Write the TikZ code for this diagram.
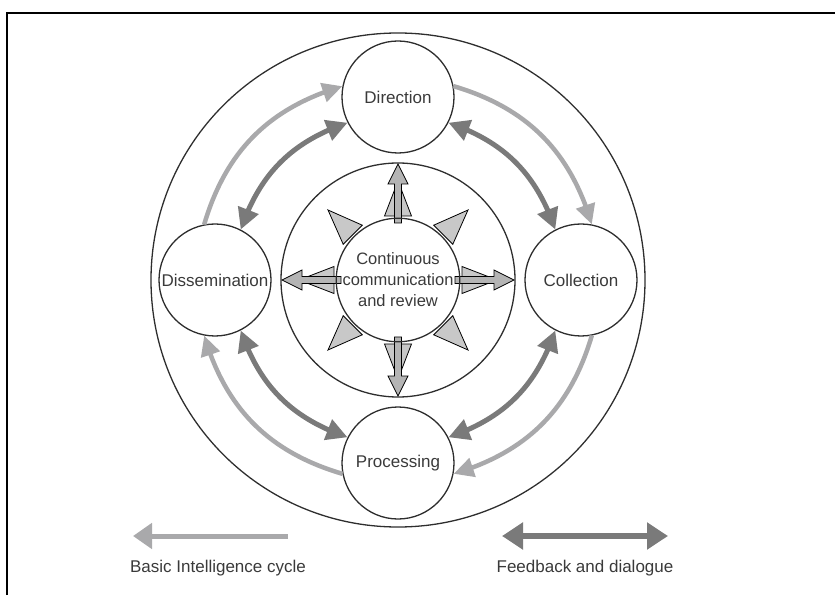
\documentclass[tikz,border=0pt]{standalone}
\usepackage{fontspec}
\setmainfont{Liberation Sans}
\usetikzlibrary{arrows.meta,bending,calc}
\definecolor{lightarr}{HTML}{A9A9AB}
\definecolor{darkarr}{HTML}{7A7A7A}
\definecolor{txt}{HTML}{3A3A3A}
\definecolor{ring}{HTML}{2E2E2E}
\definecolor{trifill}{HTML}{C8C8C8}
\definecolor{arrfill}{HTML}{B4B4B4}
\begin{document}
\begin{tikzpicture}[x=1pt,y=1pt,
  stage/.style={circle, draw=ring, line width=1.3pt, minimum size=112pt, inner sep=0pt,
    font=\fontsize{17}{20}\selectfont, text=txt},
  ringc/.style={circle, draw=ring, line width=1.3pt, inner sep=0pt},
  cyc/.style={draw=lightarr, line width=4.5pt, -{Triangle[length=20pt,width=19pt]}},
  fb/.style={draw=darkarr, line width=5pt,
    {Triangle[length=21pt,width=21pt]}-{Triangle[length=21pt,width=21pt]}},
  legcyc/.style={draw=lightarr, line width=5pt, -{Triangle[length=19pt,width=25pt]}},
  legfb/.style={draw=darkarr, line width=6pt,
    {Triangle[length=21pt,width=26pt]}-{Triangle[length=21pt,width=26pt]}},
  tri/.style={draw=black, line width=0.8pt, fill=trifill, line join=miter},
  carrow/.style={draw=black, line width=0.8pt, fill=arrfill},
  legtext/.style={font=\fontsize{17}{20}\selectfont, text=txt}
]
\useasboundingbox (0,0) rectangle (835,595);
\draw[line width=2pt] (6.5,0) -- (6.5,582) -- (835,582);

\coordinate (C) at (398,315);
\node[ringc, minimum size=494pt] (outer) at (C) {};
\node[ringc, minimum size=234pt] (mid) at (C) {};

% central triangles and arrows
\foreach \a in {45,135,225,315} {
  \draw[tri, shift={(C)}, rotate=\a] (64,-13.5) -- (99,0) -- (64,13.5) -- cycle;
}
\foreach \a in {0,90,180,270} {
  \draw[tri, shift={(C)}, rotate=\a] (64,-13.5) -- (99,0) -- (64,13.5) -- cycle;
  \draw[carrow, shift={(C)}, rotate=\a] (57,-3.5) -- (96,-3.5) -- (96,-10) -- (116,0)
    -- (96,10) -- (96,3.5) -- (57,3.5) -- cycle;
}

\node[ringc, minimum size=120pt, align=center, font=\fontsize{16.5}{21}\selectfont, text=txt]
  (core) at (C) {Continuous\\communication\\and review};

\node[stage] (dir) at (398,498) {Direction};
\node[stage] (col) at (581,315) {Collection};
\node[stage] (pro) at (398,132) {Processing};
\node[stage] (dis) at (215,315) {Dissemination};

% basic intelligence cycle
\draw[cyc] (dis.101) to[bend left=28.5] (dir.169);
\draw[cyc] (dir.11) to[bend left=28.5] (col.79);
\draw[cyc] (col.-79) to[bend left=28.5] (pro.-11);
\draw[cyc] (pro.-169) to[bend left=28.5] (dis.-101);

% feedback and dialogue
\draw[fb] (dis.63) to[bend left=26] (dir.207);
\draw[fb] (dir.-27) to[bend left=26] (col.117);
\draw[fb] (col.-117) to[bend left=26] (pro.27);
\draw[fb] (pro.153) to[bend left=26] (dis.-63);

% legend
\coordinate (la1) at (288,59);
\coordinate (la2) at (133,59);
\draw[legcyc] (la1) -- (la2);
\node[legtext] (lt1) at (218,27) {Basic Intelligence cycle};
\coordinate (lb1) at (502,59);
\coordinate (lb2) at (668,59);
\draw[legfb] (lb1) -- (lb2);
\node[legtext] (lt2) at (585,27) {Feedback and dialogue};
\end{tikzpicture}
\end{document}
